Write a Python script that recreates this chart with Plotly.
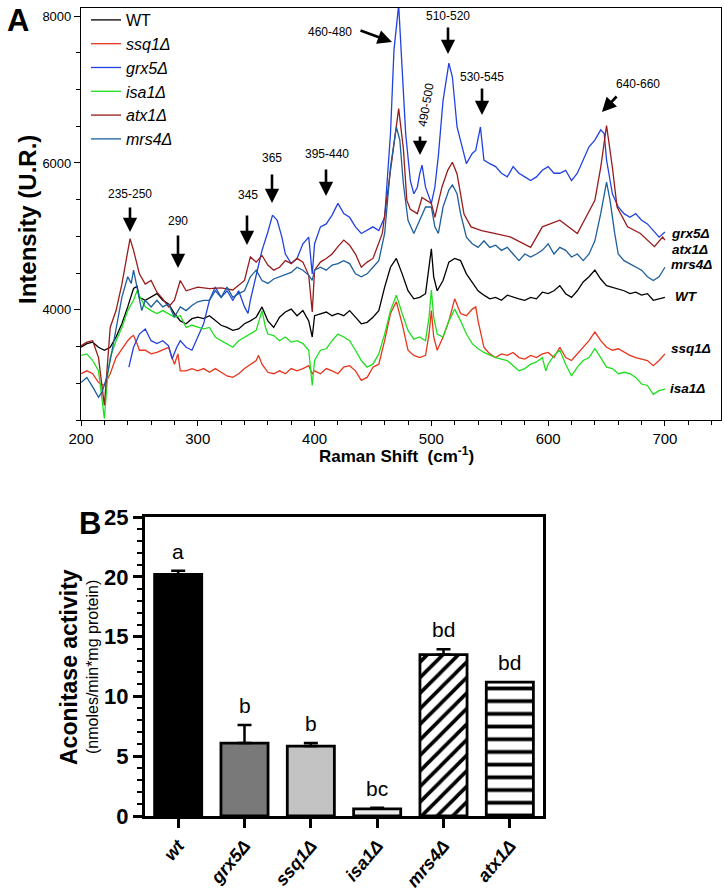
import plotly.graph_objects as go

W, H = 725, 889

# ---------------- Panel A data (Raman spectra) ----------------
wt_x = [200,205,210,215,220,225,230,235,240,245,248,250,255,260,265,270,275,280,285,290,295,300,305,310,315,320,325,330,335,340,345,350,355,358,360,365,370,375,380,385,390,395,398,400,405,410,415,420,425,430,435,440,445,450,455,460,465,470,475,480,485,490,495,498,500,502,505,510,515,520,525,530,535,540,545,550,555,560,565,570,575,580,585,590,595,600,605,610,615,620,625,630,635,640,645,650,655,660,665,670,675,680,685,690,695,700]
wt_y = [3490,3540,3560,3490,3450,3490,3630,3810,4040,4290,4320,4170,4130,4170,4220,4130,4080,3950,3850,3810,3880,3900,3880,3920,3850,3790,3760,3720,3740,3810,3850,3900,4040,3920,3850,3760,3900,3970,4010,3920,3990,3850,3630,3920,3950,3970,3920,3950,3920,3990,3900,3810,3830,3900,3990,4310,4580,4700,4490,4260,4150,4170,4220,4630,4830,4450,4260,4400,4650,4700,4670,4490,4380,4260,4200,4150,4170,4130,4200,4170,4150,4130,4170,4150,4240,4220,4260,4330,4220,4170,4260,4380,4450,4540,4420,4330,4310,4290,4260,4220,4240,4200,4220,4130,4150,4170]

ssq1_x = [200,205,210,215,220,225,230,235,240,243,245,248,250,255,260,265,270,275,278,280,283,285,290,295,300,305,310,315,320,325,330,335,340,345,350,352,355,360,365,370,375,380,385,390,395,398,400,405,410,415,420,425,430,435,440,445,450,455,460,465,470,475,480,485,490,495,498,500,502,505,510,515,520,525,530,535,538,540,545,550,555,560,565,570,575,580,585,590,595,600,605,610,615,620,625,630,635,640,645,650,655,660,665,670,675,680,685,690,695,700]
ssq1_y = [3130,3170,3130,3010,2970,3130,3350,3470,3580,3630,3650,3540,3450,3450,3400,3420,3450,3490,3350,3260,3400,3170,3170,3200,3170,3200,3150,3200,3150,3100,3080,3130,3200,3260,3310,3380,3260,3150,3130,3170,3130,3200,3170,3200,3240,3130,3170,3130,3200,3170,3130,3220,3240,3170,3040,3080,3220,3260,3580,3950,4110,3810,3450,3380,3350,3380,3670,3990,3630,3450,3630,3850,4150,3950,3920,4010,4040,3850,3490,3400,3350,3400,3380,3420,3350,3330,3380,3350,3400,3420,3350,3490,3350,3310,3400,3490,3580,3700,3580,3490,3450,3470,3420,3380,3350,3330,3310,3240,3310,3400]

grx5_x = [241,245,250,255,260,265,270,275,278,282,285,290,295,300,305,310,315,320,325,330,335,340,343,345,350,355,360,364,368,372,375,380,385,390,395,398,400,405,410,415,420,425,430,435,440,445,450,455,460,465,468,472,475,478,482,485,488,490,492,495,500,503,506,510,515,518,522,525,530,535,538,542,545,550,555,560,565,570,575,580,585,590,595,600,605,610,615,620,625,630,635,640,645,648,650,655,660,665,670,675,680,685,690,695,700]
grx5_y = [3220,3490,3670,3740,3580,3540,3580,3510,3330,3490,3580,3490,3450,3630,3810,4130,4310,4170,4260,4130,4260,4040,3950,4130,4490,4810,5060,5290,5220,4990,4760,4630,4700,4900,4990,4490,4900,5130,5170,5290,5450,5310,5260,5130,5040,5080,5130,5080,5260,6400,7540,8150,7310,6400,5760,5580,5670,5850,5970,5670,5450,5670,6100,6850,7360,7170,6490,6310,5990,6130,6170,6490,6040,5990,5950,5860,5810,5950,5860,5810,5760,5810,5900,5950,5860,5860,5900,5760,5860,6040,6220,6310,6450,6400,6040,5580,5400,5310,5260,5310,5220,5170,5080,4990,5060]

isa1_x = [200,205,210,215,220,223,225,230,235,240,245,248,252,255,260,265,270,275,280,285,290,295,300,305,310,315,320,325,330,335,340,345,350,355,358,360,365,370,375,380,385,390,395,398,400,405,410,415,420,425,430,435,440,445,450,455,460,465,470,475,480,485,490,495,498,500,502,505,510,515,520,525,530,535,540,545,550,555,560,565,570,575,580,585,590,595,598,600,605,610,615,620,625,630,635,640,645,650,655,660,665,670,675,680,685,690,695,700]
isa1_y = [3380,3400,3310,3170,2520,3130,3350,3580,3760,3990,4130,4260,4130,4040,3990,3950,3990,3950,3900,3920,3760,3790,3760,3740,3760,3630,3580,3540,3490,3580,3630,3670,3720,3990,3760,3670,3650,3580,3630,3560,3580,3540,3450,2970,3310,3450,3470,3580,3670,3630,3580,3450,3310,3220,3260,3400,3670,3990,4200,3950,3720,3600,3630,3580,3900,4270,3900,3670,3630,3850,4010,3850,3670,3540,3470,3420,3380,3350,3330,3310,3240,3170,3200,3260,3290,3350,3170,3260,3380,3450,3260,3100,3220,3310,3350,3470,3350,3220,3200,3130,3150,3130,3080,2990,2970,2850,2900,2920]

atx1_x = [200,205,210,215,220,225,230,235,242,245,250,255,260,265,270,275,280,285,290,295,300,310,320,330,340,345,350,355,360,365,370,375,380,385,390,395,398,400,405,410,415,420,425,430,435,440,445,450,458,465,472,476,479,482,488,492,496,500,503,509,514,518,522,528,534,543,554,568,585,595,610,625,640,645,650,655,659,668,679,691,698,700]
atx1_y = [3510,3560,3580,3350,2700,3760,3990,4350,4970,4810,4490,4350,4400,4240,4150,4040,4130,4400,4260,4290,4310,4290,4300,4270,4400,4720,4650,4740,4610,4540,4580,4670,4630,4700,4650,4470,3970,4540,4650,4700,4760,4860,4950,4880,4760,4580,4650,4700,5040,5900,6740,6200,5490,5370,5310,5530,5490,5450,5260,5670,5900,6010,5850,5300,5130,5080,5040,4990,4850,5130,5220,5040,5490,5940,6510,5940,5400,5130,5040,4860,4990,4950]

mrs4_x = [200,205,210,215,218,222,225,230,235,240,243,245,248,252,255,260,265,270,275,280,285,290,295,300,305,310,315,320,325,330,335,340,345,350,355,360,365,370,375,380,385,390,395,398,400,405,410,415,420,425,430,435,440,445,450,455,460,465,470,473,476,480,485,490,495,500,503,506,510,515,518,522,525,530,535,540,545,550,555,560,565,570,575,580,585,590,595,600,605,610,615,620,625,630,635,640,645,650,653,657,660,665,670,675,680,685,690,695,700]
mrs4_y = [3010,3080,2950,2810,2880,3080,3310,3760,4170,4450,4360,4540,4310,3990,4130,4040,4130,4040,4080,3900,4040,3990,4060,4110,4130,4130,4260,4170,4310,4170,4220,4260,4450,4540,4400,4360,4420,4450,4490,4510,4580,4540,4470,4400,4540,4580,4540,4610,4630,4670,4630,4490,4450,4490,4580,4670,5040,5940,6490,6310,5720,5220,5040,5220,5400,5400,5130,5040,5400,5630,5700,5580,5310,4990,4900,4850,4940,4850,4880,4810,4850,4760,4670,4760,4720,4760,4810,4900,4760,4850,4810,4720,4760,4670,4760,4940,5310,5740,5490,5040,4760,4670,4630,4580,4540,4450,4400,4450,4580]

series_names = ["WT", "<i>ssq1Δ</i>", "<i>grx5Δ</i>", "<i>isa1Δ</i>", "<i>atx1Δ</i>", "<i>mrs4Δ</i>"]
series_x = [wt_x, ssq1_x, grx5_x, isa1_x, atx1_x, mrs4_x]
series_y = [wt_y, ssq1_y, grx5_y, isa1_y, atx1_y, mrs4_y]
series_colors = ["#000000", "#e8341c", "#2142e0", "#1ee01e", "#991b1b", "#1d5f9c"]

end_labels = ["grx5Δ", "atx1Δ", "mrs4Δ", "WT", "ssq1Δ", "isa1Δ"]
peak_labels = ["235-250", "290", "345", "365", "395-440", "460-480", "490-500", "510-520", "530-545", "640-660"]

# ---------------- Panel B data (aconitase activity) ----------------
strains = ["wt", "grx5Δ", "ssq1Δ", "isa1Δ", "mrs4Δ", "atx1Δ"]
activity = [20.2, 6.1, 5.85, 0.6, 13.5, 11.2]
activity_err = [0.3, 1.5, 0.25, 0.1, 0.45, 0.0]
sig_letters = ["a", "b", "b", "bc", "bd", "bd"]
bar_colors = ["#000000", "#797979", "#c3c3c3", "#e9e9e9", "#ffffff", "#ffffff"]
bar_patterns = ["", "", "", "", "/", "-"]
pattern_sizes = [8, 8, 8, 8, 11, 12.7]
pattern_solidity = [0.3, 0.3, 0.3, 0.3, 0.33, 0.3]


def px(x):
    return x / W


def py(y):
    return 1 - y / H


FONT = "Arial, Liberation Sans, sans-serif"
NARROW = "Liberation Sans Narrow, Arial Narrow, Liberation Sans, Arial, sans-serif"

fig = go.Figure()

for name, xs, ys, c in zip(series_names, series_x, series_y, series_colors):
    fig.add_trace(go.Scatter(x=xs, y=ys, mode="lines", name=name,
                             line=dict(color=c, width=1.3),
                             xaxis="x", yaxis="y"))

for s, v, e, col, pat, psz, sol in zip(strains, activity, activity_err, bar_colors,
                                        bar_patterns, pattern_sizes, pattern_solidity):
    marker = dict(color=col, line=dict(color="black", width=2.8))
    if pat:
        marker["pattern"] = dict(shape=pat, fgcolor="black", fgopacity=1, bgcolor="white",
                                 size=psz, solidity=sol, fillmode="overlay")
    fig.add_trace(go.Bar(
        x=[s], y=[v], xaxis="x2", yaxis="y2", showlegend=False, width=0.71,
        marker=marker,
        error_y=dict(type="data", array=[e], arrayminus=[0], symmetric=False,
                     color="black", thickness=2.5, width=7, visible=e > 0),
    ))

ann = []
# significance letters
for s, v, e, t in zip(strains, activity, activity_err, sig_letters):
    ann.append(dict(x=s, y=v + e, xref="x2", yref="y2", text=t, showarrow=False,
                    yanchor="bottom", yshift=6, font=dict(family=NARROW, size=21, color="black")))

# end-of-line labels (panel A)
end_pos = [(669, 233), (670, 249), (669, 265), (673, 296), (669, 348), (668, 388)]
for t, (xx, yy) in zip(end_labels, end_pos):
    ann.append(dict(x=px(xx), y=py(yy), xref="paper", yref="paper", text=f"<b><i>{t}</i></b>",
                    showarrow=False, xanchor="left", yanchor="middle",
                    font=dict(family=FONT, size=13.5, color="black")))

# peak labels
lab_pos = [(130, 194), (178, 221), (248, 195), (272, 158), (327, 154), (330, 32),
           (426, 105), (448, 16), (482, 77), (638, 84)]
for t, (xx, yy) in zip(peak_labels, lab_pos):
    ann.append(dict(x=px(xx), y=py(yy), xref="paper", yref="paper", text=t, showarrow=False,
                    xanchor="center", yanchor="middle", textangle=(-80 if t == "490-500" else 0),
                    font=dict(family=FONT, size=12, color="black")))

# arrows (tip, tail)
arrows = [((130, 232), (130, 206)), ((178, 268), (178, 234)), ((247, 245), (247, 214)),
          ((272, 203), (272, 173)), ((326, 196), (326, 168)), ((392, 42), (359, 30)),
          ((420, 155), (420, 135)), ((448, 54), (448, 26)), ((482, 115), (482, 87)),
          ((602, 112), (618, 95))]
for (tx, ty), (sx, sy) in arrows:
    ann.append(dict(x=px(tx), y=py(ty), xref="paper", yref="paper", text="", showarrow=True,
                    ax=sx - tx, ay=sy - ty, arrowhead=2, arrowsize=1.1, arrowwidth=2.6,
                    arrowcolor="black", standoff=0))

# titles and panel letters
ann += [
    dict(x=px(18), y=py(21), text="<b>A</b>", font=dict(family=FONT, size=31, color="black")),
    dict(x=px(90), y=py(523), text="<b>B</b>", font=dict(family=NARROW, size=31, color="black")),
    dict(x=px(27), y=py(220), text="<b>Intensity (U.R.)</b>", textangle=-90,
         font=dict(family=FONT, size=24, color="black")),
    dict(x=px(396), y=py(455), text="<b>Raman Shift  (cm<sup>-1</sup>)</b>",
         font=dict(family=FONT, size=17, color="black")),
    dict(x=px(69), y=py(667), text="<b>Aconitase activity</b>", textangle=-90,
         font=dict(family=FONT, size=23, color="black")),
    dict(x=px(92), y=py(667), text="(nmoles/min*mg protein)", textangle=-90,
         font=dict(family=FONT, size=16, color="black")),
]
for a in ann[-6:]:
    a.update(xref="paper", yref="paper", showarrow=False, xanchor="center", yanchor="middle")

fig.update_layout(
    template="none",
    width=W, height=H, autosize=False,
    margin=dict(l=0, r=0, t=0, b=0, pad=0, autoexpand=False),
    paper_bgcolor="white", plot_bgcolor="white",
    font=dict(family=FONT, color="black"),
    showlegend=True, barmode="overlay",
    legend=dict(x=px(86), y=py(3), xanchor="left", yanchor="top", bgcolor="rgba(0,0,0,0)",
                font=dict(family=FONT, size=16, color="black"), tracegroupgap=0, borderwidth=0),
    xaxis=dict(domain=[px(81), px(721)], range=[200, 748], tick0=200, dtick=100, automargin=False,
               ticks="outside", ticklen=5, tickwidth=1, tickcolor="black",
               minor=dict(dtick=20, ticks="outside", ticklen=4, tickwidth=1, tickcolor="black", showgrid=False),
               showline=True, linecolor="black", linewidth=1.2, mirror=True,
               showgrid=False, zeroline=False, tickfont=dict(size=15, family=FONT)),
    yaxis=dict(domain=[py(420), py(8)], range=[2500, 8110], tickvals=[4000, 6000, 8000], automargin=False,
               ticks="outside", ticklen=6, tickwidth=1, tickcolor="black",
               minor=dict(dtick=500, tick0=0, ticks="outside", ticklen=4, tickwidth=1, tickcolor="black", showgrid=False),
               showline=True, linecolor="black", linewidth=1.2, mirror=True,
               showgrid=False, zeroline=False, tickfont=dict(size=13, family=FONT)),
    xaxis2=dict(domain=[px(145), px(543)], range=[-0.5, 5.5], anchor="y2", automargin=False,
                type="category", categoryorder="array", categoryarray=strains,
                ticks="outside", ticklen=9, tickwidth=3, tickcolor="black", tickangle=-50,
                showline=True, linecolor="black", linewidth=3, mirror=True,
                showgrid=False, zeroline=False,
                tickfont=dict(family=FONT, size=18, weight="bold", style="italic")),
    yaxis2=dict(domain=[py(816), py(517)], range=[0, 25], anchor="x2", dtick=5, automargin=False,
                ticks="outside", ticklen=9, tickwidth=3, tickcolor="black",
                minor=dict(dtick=1, ticks="outside", ticklen=5, tickwidth=2, tickcolor="black", showgrid=False),
                showline=True, linecolor="black", linewidth=3, mirror=True,
                showgrid=False, zeroline=False,
                tickfont=dict(family=NARROW, size=22, weight="bold")),
    annotations=ann,
)

fig.write_html("out.html", config={"displayModeBar": False},
               post_script="document.body.style.margin='0';document.body.style.overflow='hidden';")
